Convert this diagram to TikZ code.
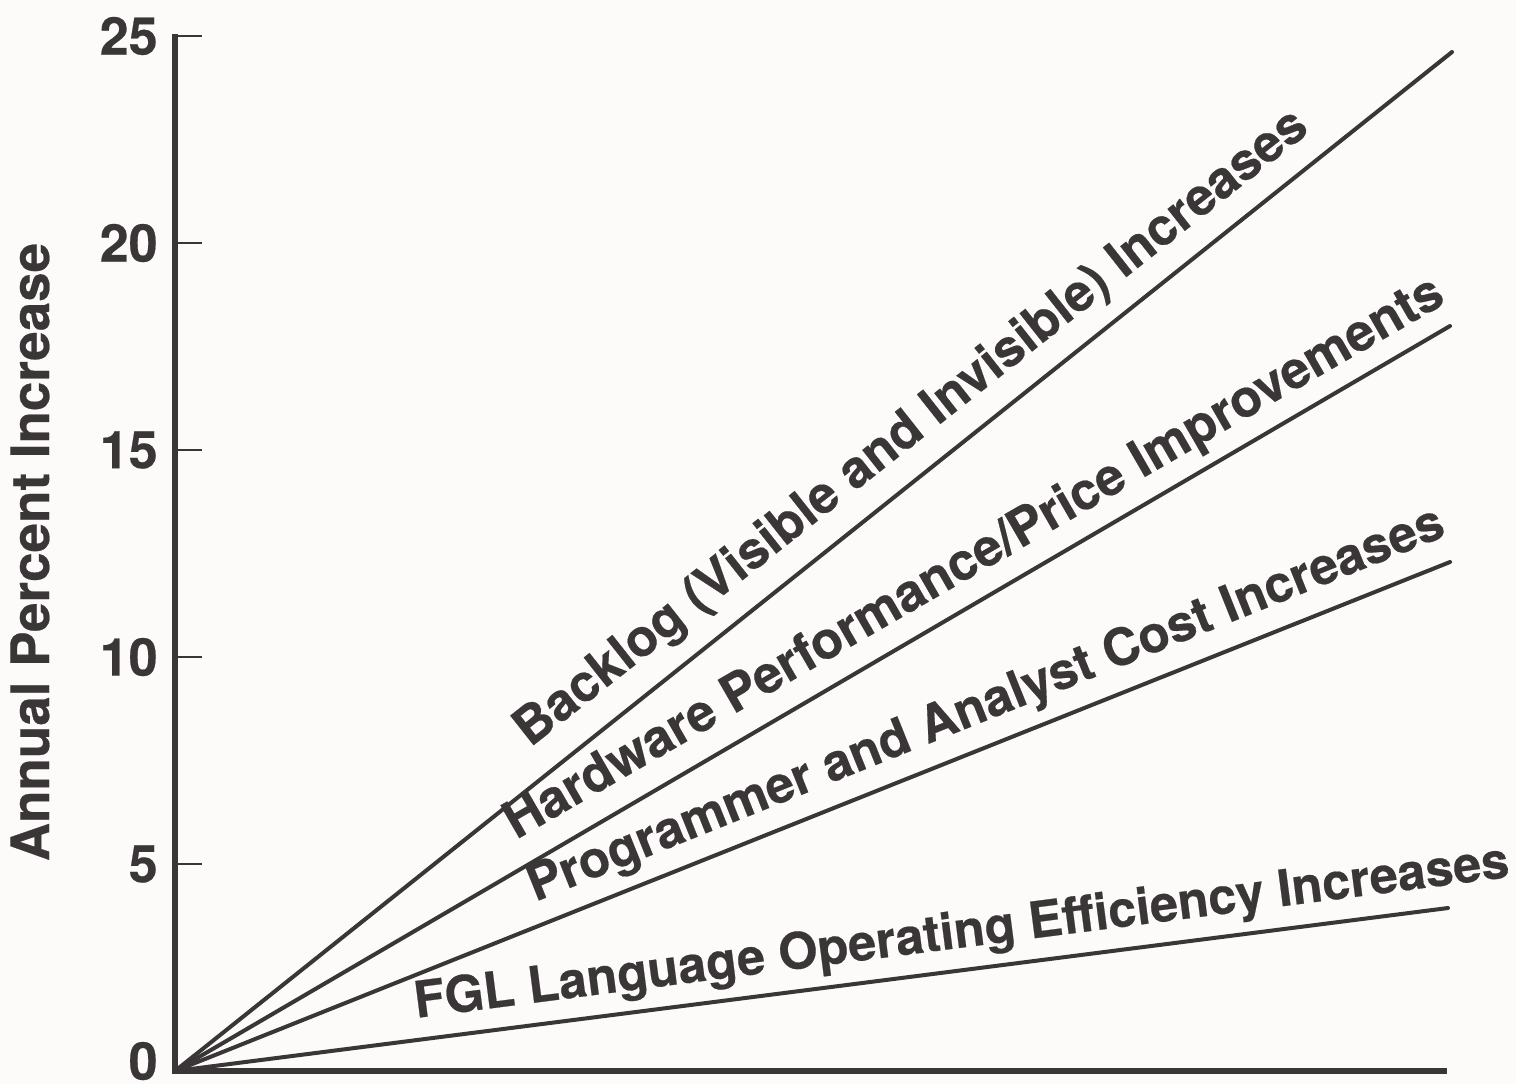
\documentclass[tikz,border=0pt]{standalone}
\usepackage{fontspec}
\setmainfont{TeX Gyre Heros}
\newfontfamily\heavy[BoldFeatures={FakeBold=0.4}]{TeX Gyre Heros}
\definecolor{ink}{HTML}{3A3536}
\definecolor{paper}{HTML}{FCFBFA}
\begin{document}
\begin{tikzpicture}[x=0.5pt,y=-0.5pt,
  axis/.style={draw=ink,line width=3pt},
  tickline/.style={draw=ink,line width=1.4pt},
  trend/.style={draw=ink,line width=2pt,line cap=round},
  ticklabel/.style={text=ink,inner sep=0pt,anchor=east,font=\heavy\fontsize{26}{30}\selectfont\bfseries},
  linelabel/.style={text=ink,inner sep=0pt,anchor=base west,font=\heavy\fontsize{25.2}{30}\selectfont\bfseries},
  axislabel/.style={text=ink,inner sep=0pt,anchor=base,rotate=90,font=\heavy\fontsize{26.5}{30}\selectfont\bfseries}]
\fill[paper] (0,0) rectangle (1516,1084);
\useasboundingbox (0,0) rectangle (1516,1084);
% coordinates
\coordinate (O) at (175,1071);
\coordinate (ytop) at (175,34);
\coordinate (xend) at (1447,1071);
\coordinate (eB) at (1452,52);
\coordinate (eH) at (1450,326);
\coordinate (eP) at (1450,562);
\coordinate (eF) at (1448,908);
% axes
\draw[axis] (ytop) -- (O) -- (xend);
\foreach \v/\yy in {5/864,10/657,15/450,20/243,25/36}{
  \coordinate (t\v) at (175,\yy);
  \coordinate (tt\v) at (202,\yy);
  \draw[tickline] (t\v) -- (tt\v);
  \node[ticklabel] (lab\v) at (158,\yy) {\v};
}
\node[ticklabel] (lab0) at (158,1061) {0};
\node[axislabel] (ylab) at (49,552) {Annual Percent Increase};
% trend lines
\draw[trend] (O) -- (eB);
\draw[trend] (O) -- (eH);
\draw[trend] (O) -- (eP);
\draw[trend] (O) -- (eF);
% labels
\node[linelabel,rotate=38.3,font=\heavy\fontsize{25.8}{30}\selectfont\bfseries] (lB) at (530,748) {Backlog (Visible and Invisible) Increases};
\node[linelabel,rotate=30.0,font=\heavy\fontsize{25.9}{30}\selectfont\bfseries] (lH) at (516,840) {Hardware Performance/Price Improvements};
\node[linelabel,rotate=21.9,font=\heavy\fontsize{25.5}{30}\selectfont\bfseries] (lP) at (535,902) {Programmer and Analyst Cost Increases};
\node[linelabel,rotate=7.35] (lF) at (416,1018) {FGL Language Operating Efficiency Increases};
\end{tikzpicture}
\end{document}
